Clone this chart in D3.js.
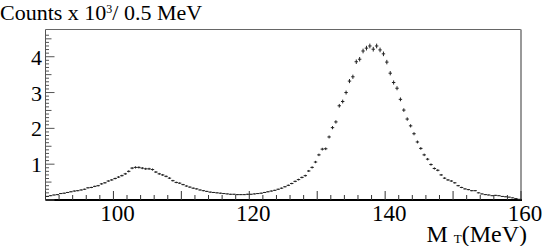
<html>
<head>
<meta charset="utf-8">
<title>M_T spectrum</title>
<script src="https://cdnjs.cloudflare.com/ajax/libs/d3/7.8.5/d3.min.js"></script>
<style>
body { margin:0; background:#fff; }
text { font-family: "Liberation Serif", "DejaVu Serif", serif; fill:#000; }
</style>
</head>
<body>
<svg width=545 height=246></svg>
<script>
// histogram: 0.5 MeV bins from 90 to 160, counts in units of 10^3
var binLow = 90, binWidth = 0.5;
var counts = [
  0.10,0.12,0.14,0.15,0.18,0.19,0.21,0.23,0.25,0.26,
  0.28,0.30,0.34,0.35,0.38,0.40,0.45,0.48,0.53,0.56,
  0.60,0.64,0.68,0.73,0.80,0.89,0.91,0.91,0.89,0.87,
  0.87,0.85,0.78,0.73,0.70,0.66,0.61,0.54,0.49,0.47,
  0.43,0.39,0.36,0.33,0.31,0.28,0.26,0.24,0.22,0.21,
  0.20,0.19,0.18,0.17,0.16,0.16,0.15,0.15,0.15,0.16,
  0.16,0.17,0.18,0.19,0.21,0.23,0.25,0.27,0.30,0.33,
  0.37,0.41,0.46,0.52,0.57,0.63,0.68,0.81,0.91,1.06,
  1.26,1.42,1.43,1.76,2.02,2.18,2.63,2.75,3.00,3.32,
  3.44,3.86,3.93,4.16,4.24,4.30,4.21,4.30,4.19,4.08,
  3.85,3.54,3.28,3.12,2.81,2.51,2.26,2.07,1.85,1.62,
  1.44,1.26,1.14,0.99,0.88,0.83,0.70,0.61,0.56,0.53,
  0.48,0.40,0.35,0.31,0.29,0.26,0.26,0.20,0.17,0.15,
  0.14,0.12,0.13,0.12,0.10,0.09,0.08,0.06,0.04,0.02
];
var xLabels = [100, 120, 140, 160];
var yLabels = [1, 2, 3, 4];

var svg = d3.select("svg");
var x = d3.scaleLinear().domain([90, 160]).range([45.5, 521]);
var y = d3.scaleLinear().domain([0, 4.76]).range([200, 29.5]);

var bins = counts.map(function(c, i) {
  var lo = binLow + i * binWidth;
  return { lo: lo, hi: lo + binWidth, mid: lo + binWidth / 2, c: c, e: Math.sqrt(c * 1000) / 1000 };
});

// frame
svg.append("line").attr("x1", x(90)).attr("x2", x(160)).attr("y1", y.range()[1]).attr("y2", y.range()[1])
  .attr("stroke", "#666").attr("stroke-width", 1);
svg.append("line").attr("x1", x(160)).attr("x2", x(160)).attr("y1", y.range()[1]).attr("y2", y(0))
  .attr("stroke", "#999").attr("stroke-width", 2);
svg.append("line").attr("x1", x(90)).attr("x2", x(90)).attr("y1", y.range()[1]).attr("y2", y(0))
  .attr("stroke", "#555").attr("stroke-width", 1);
svg.append("line").attr("x1", x(90)).attr("x2", x(160) + 1).attr("y1", y(0)).attr("y2", y(0))
  .attr("stroke", "#000").attr("stroke-width", 2);

// x ticks
var xt = d3.range(90, 160.1, 2);
svg.append("g").selectAll("line").data(xt).enter().append("line")
  .attr("x1", function(d) { return x(d); }).attr("x2", function(d) { return x(d); })
  .attr("y1", y(0)).attr("y2", function(d) { return y(0) - (d % 10 == 0 ? 9 : 5); })
  .attr("stroke", "#333").attr("stroke-width", 1);

svg.append("g").selectAll("text").data(xLabels).enter().append("text")
  .attr("x", function(d) { return x(d) + 4; }).attr("y", 221)
  .attr("text-anchor", "middle").style("font-size", "23px")
  .text(function(d) { return d; });

// y ticks
var yt = d3.range(0, 47).map(function(i) { return i / 10; });
svg.append("g").selectAll("line").data(yt).enter().append("line")
  .attr("x1", x(90)).attr("y1", function(d) { return y(d); }).attr("y2", function(d) { return y(d); })
  .attr("x2", function(d, i) { return x(90) + (i % 10 == 0 ? 9 : (i % 5 == 0 ? 6 : 3.5)); })
  .attr("stroke", "#555").attr("stroke-width", 1);

svg.append("g").selectAll("text").data(yLabels).enter().append("text")
  .attr("x", 42).attr("y", function(d) { return y(d) + 8; })
  .attr("text-anchor", "end").style("font-size", "22px")
  .text(function(d) { return d; });

// data crosses
var pts = svg.append("g").attr("stroke", "#222").attr("stroke-width", 1);
pts.selectAll(".h").data(bins).enter().append("line")
  .attr("x1", function(d) { return x(d.lo); }).attr("x2", function(d) { return x(d.hi); })
  .attr("y1", function(d) { return y(d.c); }).attr("y2", function(d) { return y(d.c); });
pts.selectAll(".v").data(bins).enter().append("line")
  .attr("x1", function(d) { return x(d.mid); }).attr("x2", function(d) { return x(d.mid); })
  .attr("y1", function(d) { return y(d.c + d.e); }).attr("y2", function(d) { return y(d.c - d.e); });

// titles
var t = svg.append("text").attr("x", 0).attr("y", 20).style("font-size", "22px");
t.append("tspan").text("Counts x 10");
t.append("tspan").attr("dy", -7).style("font-size", "12px").text("3");
t.append("tspan").attr("dy", 7).text("/ 0.5 MeV");

var xt2 = svg.append("text").attr("x", 527).attr("y", 242).attr("text-anchor", "end").style("font-size", "24px");
xt2.append("tspan").text("M ");
xt2.append("tspan").attr("dy", 1).style("font-size", "13px").text("T");
xt2.append("tspan").attr("dy", -1).text("(MeV)");
</script>
</body>
</html>
